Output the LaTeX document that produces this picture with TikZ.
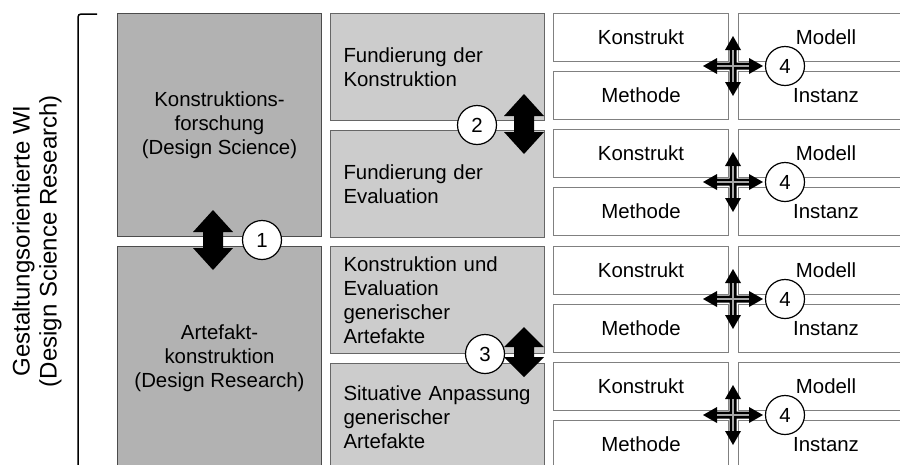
\documentclass[tikz,border=0pt]{standalone}
\usepackage{fontspec}
\setmainfont{Liberation Sans}
\begin{document}
\begin{tikzpicture}[x=1pt,y=-1pt,
  every node/.style={font=\fontsize{20.4}{24}\selectfont, inner sep=0pt},
  mainbox/.style={draw=black!70, fill=black!30, line width=1pt, anchor=north west,
    minimum width=204pt, minimum height=223pt, align=center},
  subbox/.style={draw=black!60, fill=black!20, line width=1pt, anchor=north west,
    minimum width=214pt, minimum height=107pt, text width=188pt, align=left},
  typebox/.style={draw=black!50, fill=white, line width=1pt, anchor=north west,
    minimum width=175pt, minimum height=48pt},
  num/.style={circle, draw=black, fill=white, line width=1.2pt, minimum size=39pt},
  bigarrow/.pic={\fill[black] (-10,-8) -- (-20,-8) -- (0,-30) -- (20,-8) -- (10,-8)
      -- (10,8) -- (20,8) -- (0,30) -- (-20,8) -- (-10,8) -- cycle;},
  shortarrow/.pic={\fill[black] (-10,-5) -- (-20,-5) -- (0,-25) -- (20,-5) -- (10,-5)
      -- (10,5) -- (20,5) -- (0,25) -- (-20,5) -- (-10,5) -- cycle;},
  crossarrow/.pic={
    \fill[black] (-3.5,-3.5) -- (-16,-3.5) -- (-16,-8) -- (-30,0) -- (-16,8) -- (-16,3.5)
      -- (-3.5,3.5) -- (-3.5,16) -- (-8,16) -- (0,30) -- (8,16) -- (3.5,16) -- (3.5,3.5)
      -- (16,3.5) -- (16,8) -- (30,0) -- (16,-8) -- (16,-3.5) -- (3.5,-3.5) -- (3.5,-16)
      -- (8,-16) -- (0,-30) -- (-8,-16) -- (-3.5,-16) -- cycle;
    \draw[black!35, line width=1.3pt] (-16,0) -- (16,0) (0,-16) -- (0,16);}
]
\useasboundingbox (0,0) rectangle (900,464);
\clip (0,0) rectangle (900,464);

% side label and bracket
\node[rotate=90, align=center, font=\fontsize{24}{27}\selectfont] (gwi) at (37,241)
  {Gestaltungsorientierte WI\\(Design Science Research)};
\draw[line width=1.5pt, rounded corners=3pt] (97,14) -| (78,480);

% research kinds
\node[mainbox] (ks) at (117,13) {Konstruktions-\\forschung\\(Design Science)};
\node[mainbox] (ak) at (117,246) {Artefakt-\\konstruktion\\(Design Research)};

% sub-areas
\node[subbox] (fk) at (330,13) {Fundierung der\\Konstruktion};
\node[subbox] (fe) at (330,130) {Fundierung der\\Evaluation};
\node[subbox] (ke) at (330,246) {Konstruktion und\\Evaluation\\generischer\\Artefakte};
\node[subbox] (sa) at (330,363) {Situative Anpassung\\generischer\\Artefakte};

% artefact types
\foreach \t [count=\i] in {13,129,246,362} {
  \node[typebox] (k\i) at (553,\t) {Konstrukt};
  \node[typebox] (m\i) at (553,\t+58) {Methode};
  \node[typebox] (d\i) at (738,\t) {Modell};
  \node[typebox] (n\i) at (738,\t+58) {Instanz};
  \pic at (733,\t+53) {crossarrow};
  \node[num] (c4\i) at (785,\t+53) {4};
}

% relations between levels
\pic at (213,240) {bigarrow};
\node[num] (c1) at (262,240) {1};
\pic at (524,124) {bigarrow};
\node[num] (c2) at (477,125) {2};
\pic at (524,352) {shortarrow};
\node[num] (c3) at (485,354) {3};
\end{tikzpicture}
\end{document}
